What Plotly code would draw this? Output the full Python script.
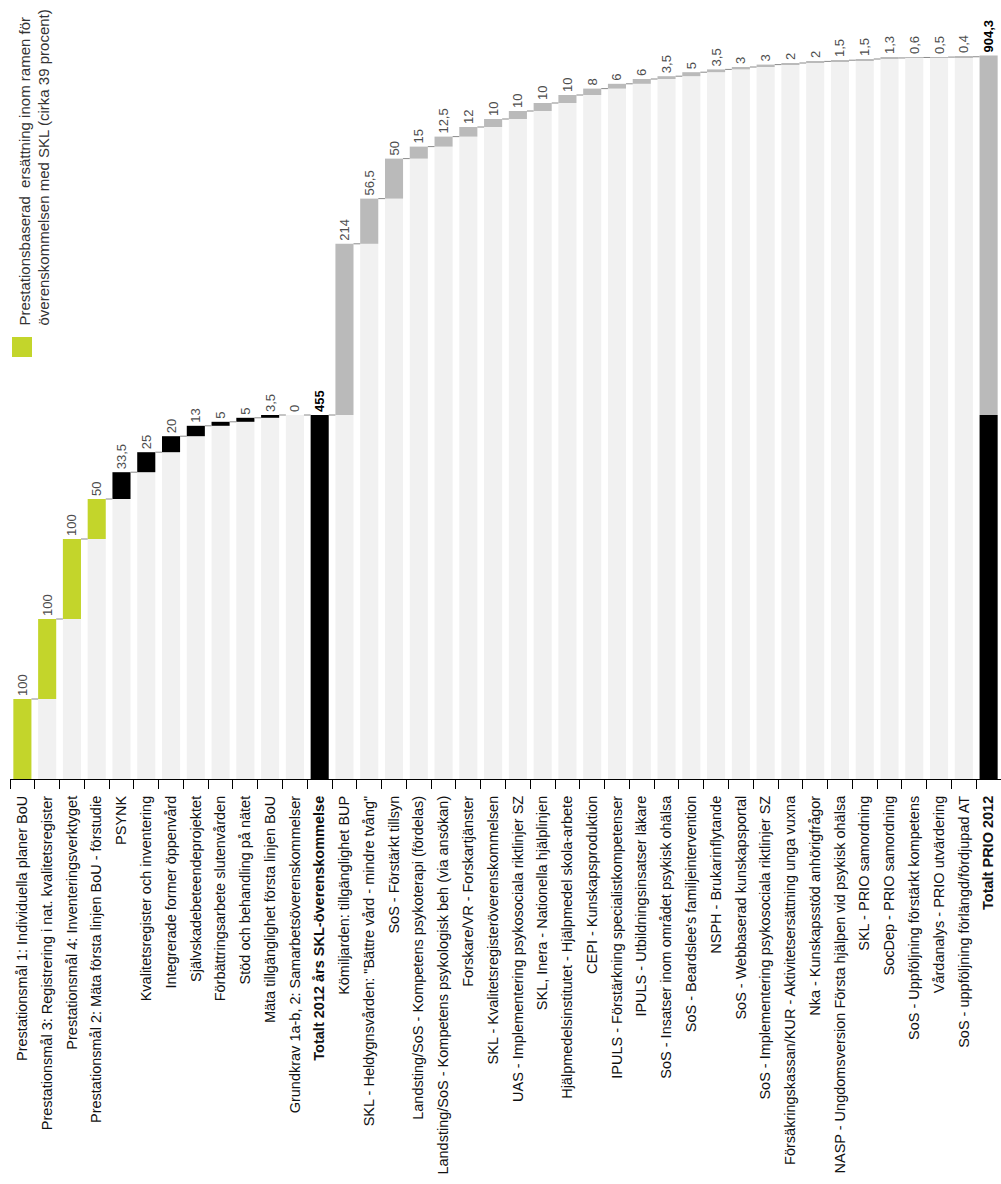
import plotly.graph_objects as go

# ---------------- data ----------------
skl_labels = [
    "Prestationsmål 1: Individuella planer BoU",
    "Prestationsmål 3: Registrering i nat. kvalitetsregister",
    "Prestationsmål 4: Inventeringsverktyget",
    "Prestationsmål 2: Mäta första linjen BoU - förstudie",
    "PSYNK",
    "Kvalitetsregister och inventering",
    "Integrerade former öppenvård",
    "Självskadebeteendeprojektet",
    "Förbättringsarbete slutenvården",
    "Stöd och behandling på nätet",
    "Mäta tillgänglighet första linjen BoU",
    "Grundkrav 1a-b, 2: Samarbetsöverenskommelser",
]
skl_values = [100, 100, 100, 50, 33.5, 25, 20, 13, 5, 5, 3.5, 0]
skl_kind = ["prestation"] * 4 + ["ovrigt"] * 8

skl_total_label = "Totalt 2012 års SKL-överenskommelse"
skl_total = 455

prio_labels = [
    "Kömiljarden: tillgänglighet BUP",
    "SKL - Heldygnsvården: \"Bättre vård - mindre tvång\"",
    "SoS - Förstärkt tillsyn",
    "Landsting/SoS - Kompetens psykoterapi (fördelas)",
    "Landsting/SoS - Kompetens psykologisk beh (via ansökan)",
    "Forskare/VR - Forskartjänster",
    "SKL - Kvalitetsregisteröverenskommelsen",
    "UAS - Implementering psykosociala riktlinjer SZ",
    "SKL, Inera - Nationella hjälplinjen",
    "Hjälpmedelsinstitutet - Hjälpmedel skola-arbete",
    "CEPI - Kunskapsproduktion",
    "IPULS - Förstärkning specialistkompetenser",
    "IPULS - Utbildningsinsatser läkare",
    "SoS - Insatser inom området psykisk ohälsa",
    "SoS - Beardslee's familjeintervention",
    "NSPH - Brukarinflytande",
    "SoS - Webbaserad kunskapsportal",
    "SoS - Implementering psykosociala riktlinjer SZ",
    "Försäkringskassan/KUR - Aktivitetsersättning unga vuxna",
    "Nka - Kunskapsstöd anhörigfrågor",
    "NASP - Ungdomsversion Första hjälpen vid psykisk ohälsa",
    "SKL - PRIO samordning",
    "SocDep - PRIO samordning",
    "SoS - Uppföljning förstärkt kompetens",
    "Vårdanalys - PRIO utvärdering",
    "SoS - uppföljning förlängd/fördjupad AT",
]
prio_values = [214, 56.5, 50, 15, 12.5, 12, 10, 10, 10, 10, 8, 6, 6, 3.5, 5,
               3.5, 3, 3, 2, 2, 1.5, 1.5, 1.3, 0.6, 0.5, 0.4]

prio_total_label = "Totalt PRIO 2012"
prio_total = 904.3

legend_text = ("Prestationsbaserad  ersättning inom ramen för<br>"
               "överenskommelsen med SKL (cirka 39 procent)")

# ---------------- styles ----------------
GREEN = "#c3d52b"
BLACK = "#000000"
GRAY = "#bababa"
BG = "#f1f1f1"
FONT = "Liberation Sans, Arial, sans-serif"
BAR_W = 0.73


def fmt(v):
    return f"{v:g}".replace(".", ",")


cats, bases, heights, colors, texts, tcolors = [], [], [], [], [], []
running = 0
for lab, v, k in zip(skl_labels, skl_values, skl_kind):
    cats.append(lab)
    bases.append(running)
    heights.append(v)
    colors.append(GREEN if k == "prestation" else BLACK)
    texts.append(fmt(v))
    tcolors.append("#4d4d4d")
    running += v

cats.append("<b>" + skl_total_label + "</b>")
bases.append(0)
heights.append(skl_total)
colors.append(BLACK)
texts.append("<b>" + fmt(skl_total) + "</b>")
tcolors.append("#000000")
running = skl_total

for lab, v in zip(prio_labels, prio_values):
    cats.append(lab)
    bases.append(running)
    heights.append(v)
    colors.append(GRAY)
    texts.append(fmt(v))
    tcolors.append("#4d4d4d")
    running += v

cats.append("<b>" + prio_total_label + "</b>")
bases.append(skl_total)
heights.append(prio_total - skl_total)
colors.append(GRAY)
texts.append("<b>" + fmt(prio_total) + "</b>")
tcolors.append("#000000")

n = len(cats)
xs = list(range(n))
bg_heights = [bases[i] if i not in (len(skl_labels), n - 1) else 0 for i in range(n)]

fig = go.Figure()

# light background columns (the invisible base of the waterfall)
fig.add_trace(go.Bar(
    x=xs, y=bg_heights, base=0, width=BAR_W,
    marker=dict(color=BG, line=dict(width=0)),
    hoverinfo="skip", showlegend=False,
))

# black part of PRIO total (= SKL agreement)
fig.add_trace(go.Bar(
    x=[n - 1], y=[skl_total], base=0, width=BAR_W,
    marker=dict(color=BLACK, line=dict(width=0)),
    hoverinfo="skip", showlegend=False,
))

# connectors
cx, cy = [], []
for i in range(n - 1):
    top = bases[i] + heights[i]
    cx += [i + BAR_W / 2, i + 1 - BAR_W / 2, None]
    cy += [top, top, None]
fig.add_trace(go.Scatter(
    x=cx, y=cy, mode="lines", line=dict(color="#8a8a8a", width=1),
    hoverinfo="skip", showlegend=False,
))

# value bars
fig.add_trace(go.Bar(
    x=xs, y=heights, base=bases, width=BAR_W,
    marker=dict(color=colors, line=dict(width=0)),
    text=texts, textposition="outside", textangle=-90,
    textfont=dict(family=FONT, size=13, color=tcolors),
    constraintext="none", cliponaxis=False,
    hoverinfo="skip", showlegend=False,
))

# ---------------- layout ----------------
L, T, B = 10, 30, 405
W, H = 1001, 1184
plot_w = W - L
plot_h = H - T - B


def px_x(p):
    return (p - L) / plot_w


def px_y(p):
    return (H - B - p) / plot_h


fig.update_layout(
    width=W, height=H,
    margin=dict(l=L, r=0, t=T, b=B, pad=0),
    paper_bgcolor="white", plot_bgcolor="white",
    barmode="overlay",
    font=dict(family=FONT, color="#111111"),
    xaxis=dict(
        range=[-0.5, n - 0.5],
        tickmode="array", tickvals=xs, ticktext=cats,
        tickangle=-90, tickfont=dict(family=FONT, size=14.5, color="#111111"),
        ticks="outside", ticklen=10, tickcolor="rgba(0,0,0,0)",
        showline=True, linecolor="#000000", linewidth=1,
        showgrid=False, zeroline=False,
        minor=dict(tickmode="linear", tick0=-0.5, dtick=1, ticks="outside",
                   ticklen=9, tickcolor="#000000", tickwidth=1, showgrid=False),
    ),
    yaxis=dict(range=[0, plot_h / 0.8], visible=False, showgrid=False,
               zeroline=False),
    shapes=[dict(
        type="rect", xref="paper", yref="paper",
        x0=px_x(12), x1=px_x(32), y0=px_y(357), y1=px_y(337),
        fillcolor=GREEN, line=dict(width=0),
    )],
    annotations=[dict(
        text=legend_text, xref="paper", yref="paper",
        x=px_x(13), y=px_y(328), xanchor="left", yanchor="bottom",
        textangle=-90, align="left", showarrow=False,
        font=dict(family=FONT, size=15, color="#333333"),
    )],
)

fig.write_html("out.html")
